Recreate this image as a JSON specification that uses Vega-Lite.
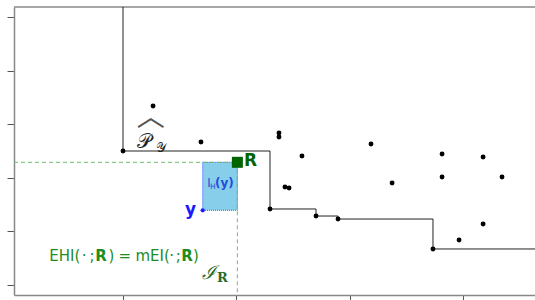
{
  "$schema": "https://vega.github.io/schema/vega-lite/v6.json",
  "width": 521,
  "height": 288,
  "autosize": {"type": "none"},
  "padding": {"left": 14, "top": 7, "right": 0, "bottom": 5},
  "background": "white",
  "config": {
    "view": {"stroke": null},
    "axis": {"grid": false, "labels": false, "title": null, "tickSize": 7, "domainColor": "#888888", "tickColor": "#555555", "domainWidth": 1.5, "tickWidth": 1}
  },
  "datasets": {
    "pts": [
      {"x": 1.265, "y": 3.340}, {"x": 1.688, "y": 2.668}, {"x": 2.376, "y": 2.836}, {"x": 2.376, "y": 2.761},
      {"x": 2.579, "y": 2.407}, {"x": 3.188, "y": 2.631}, {"x": 3.815, "y": 2.444}, {"x": 4.177, "y": 2.388},
      {"x": 2.429, "y": 1.828}, {"x": 2.465, "y": 1.810}, {"x": 3.374, "y": 1.903}, {"x": 3.815, "y": 2.015},
      {"x": 4.344, "y": 2.015}, {"x": 4.177, "y": 1.138}, {"x": 3.965, "y": 0.840},
      {"x": 1.0, "y": 2.5}, {"x": 2.297, "y": 1.418}, {"x": 2.703, "y": 1.287}, {"x": 2.897, "y": 1.231}, {"x": 3.735, "y": 0.672}
    ],
    "front": [
      {"o": 0, "x": 1.0, "y": 5.19}, {"o": 1, "x": 1.0, "y": 2.5}, {"o": 2, "x": 2.297, "y": 1.418},
      {"o": 3, "x": 2.703, "y": 1.287}, {"o": 4, "x": 2.897, "y": 1.231}, {"o": 5, "x": 3.735, "y": 0.672},
      {"o": 6, "x": 4.8, "y": 0.672}
    ]
  },
  "encoding": {
    "x": {"type": "quantitative", "scale": {"domain": [0.0382, 4.635], "nice": false, "zero": false}, "axis": {"values": [1, 2, 3, 4]}},
    "y": {"type": "quantitative", "scale": {"domain": [-0.1866, 5.1866], "nice": false, "zero": false}, "axis": {"values": [0, 1, 2, 3, 4, 5]}}
  },
  "layer": [
    {
      "data": {"values": [{"top": 5.1866}]},
      "mark": {"type": "rule", "color": "#888888", "strokeWidth": 1.5},
      "encoding": {"y": {"field": "top"}, "x": null}
    },
    {
      "data": {"values": [{"x1": 1.703, "x2": 2.009, "y1": 1.394, "y2": 2.289}]},
      "mark": {"type": "rect", "fill": "#87CEEB", "stroke": "#2b55ff", "strokeDash": [1, 1], "strokeWidth": 1},
      "encoding": {"x": {"field": "x1"}, "x2": {"field": "x2"}, "y": {"field": "y1"}, "y2": {"field": "y2"}}
    },
    {
      "data": {"values": [
        {"x1": 0.0382, "x2": 2.009, "y1": 2.289, "y2": 2.289},
        {"x1": 2.009, "x2": 2.009, "y1": 2.289, "y2": -0.1866}
      ]},
      "mark": {"type": "rule", "color": "#6fbf6f", "strokeDash": [4, 3], "strokeWidth": 1},
      "encoding": {"x": {"field": "x1"}, "x2": {"field": "x2"}, "y": {"field": "y1"}, "y2": {"field": "y2"}}
    },
    {
      "data": {"name": "front"},
      "mark": {"type": "line", "interpolate": "step-after", "color": "#222222", "strokeWidth": 1, "clip": true},
      "encoding": {"x": {"field": "x"}, "y": {"field": "y"}, "order": {"field": "o"}}
    },
    {
      "data": {"name": "pts"},
      "mark": {"type": "circle", "color": "black", "size": 24, "opacity": 1},
      "encoding": {"x": {"field": "x"}, "y": {"field": "y"}}
    },
    {
      "data": {"values": [{"x": 2.009, "y": 2.289}]},
      "mark": {"type": "square", "color": "#006400", "size": 121, "opacity": 1},
      "encoding": {"x": {"field": "x"}, "y": {"field": "y"}}
    },
    {
      "data": {"values": [{"x": 1.703, "y": 1.394}]},
      "mark": {"type": "circle", "color": "#1a1aff", "size": 18, "opacity": 1},
      "encoding": {"x": {"field": "x"}, "y": {"field": "y"}}
    },
    {
      "data": {"values": [{"x": 2.068, "y": 2.22, "t": "R"}]},
      "mark": {"type": "text", "align": "left", "baseline": "alphabetic", "font": "DejaVu Sans", "fontSize": 17, "fontWeight": "bold", "color": "#006400"},
      "encoding": {"x": {"field": "x"}, "y": {"field": "y"}, "text": {"field": "t"}}
    },
    {
      "data": {"values": [{"x": 1.644, "y": 1.306, "t": "y"}]},
      "mark": {"type": "text", "align": "right", "baseline": "alphabetic", "font": "DejaVu Sans", "fontSize": 17, "fontWeight": "bold", "color": "#1a1aff"},
      "encoding": {"x": {"field": "x"}, "y": {"field": "y"}, "text": {"field": "t"}}
    },
    {
      "data": {"values": [{"x": 1.744, "y": 1.823, "t": "I"}]},
      "mark": {"type": "text", "align": "left", "baseline": "alphabetic", "font": "DejaVu Sans", "fontSize": 11.5, "color": "#1f4fd8"},
      "encoding": {"x": {"field": "x"}, "y": {"field": "y"}, "text": {"field": "t"}}
    },
    {
      "data": {"values": [{"x": 1.768, "y": 1.800, "t": "H"}]},
      "mark": {"type": "text", "align": "left", "baseline": "alphabetic", "font": "DejaVu Sans", "fontSize": 7.5, "color": "#1f4fd8"},
      "encoding": {"x": {"field": "x"}, "y": {"field": "y"}, "text": {"field": "t"}}
    },
    {
      "data": {"values": [{"x": 1.812, "y": 1.823, "t": "(y)"}]},
      "mark": {"type": "text", "align": "left", "baseline": "alphabetic", "font": "DejaVu Sans", "fontSize": 12, "fontWeight": "bold", "color": "#1f4fd8"},
      "encoding": {"x": {"field": "x"}, "y": {"field": "y"}, "text": {"field": "t"}}
    },
    {
      "data": {"values": [
        {"x": 0.350, "y": 0.448, "t": "EHI("}, {"x": 0.636, "y": 0.448, "t": "·"}, {"x": 0.705, "y": 0.448, "t": ";"},
        {"x": 0.872, "y": 0.448, "t": ")"}, {"x": 0.960, "y": 0.448, "t": "="}, {"x": 1.110, "y": 0.448, "t": "mEI("},
        {"x": 1.409, "y": 0.448, "t": "·"}, {"x": 1.466, "y": 0.448, "t": ";"}, {"x": 1.618, "y": 0.448, "t": ")"}
      ]},
      "mark": {"type": "text", "align": "left", "baseline": "alphabetic", "font": "DejaVu Sans", "fontSize": 15, "color": "#1e8c1e"},
      "encoding": {"x": {"field": "x"}, "y": {"field": "y"}, "text": {"field": "t"}}
    },
    {
      "data": {"values": [{"x": 0.755, "y": 0.448, "t": "R"}, {"x": 1.513, "y": 0.448, "t": "R"}]},
      "mark": {"type": "text", "align": "left", "baseline": "alphabetic", "font": "DejaVu Sans", "fontSize": 15, "fontWeight": "bold", "color": "#1e8c1e"},
      "encoding": {"x": {"field": "x"}, "y": {"field": "y"}, "text": {"field": "t"}}
    },
    {
      "data": {"values": [{"x": 1.694, "y": 0.112, "t": "ℐ"}]},
      "mark": {"type": "text", "align": "left", "baseline": "alphabetic", "font": "DejaVu Serif", "fontSize": 19, "fontStyle": "italic", "color": "#2a6a2a"},
      "encoding": {"x": {"field": "x"}, "y": {"field": "y"}, "text": {"field": "t"}}
    },
    {
      "data": {"values": [{"x": 1.83, "y": 0.056, "t": "R"}]},
      "mark": {"type": "text", "align": "left", "baseline": "alphabetic", "font": "DejaVu Serif", "fontSize": 13, "fontWeight": "bold", "color": "#2a6a2a"},
      "encoding": {"x": {"field": "x"}, "y": {"field": "y"}, "text": {"field": "t"}}
    },
    {
      "data": {"values": [{"x": 1.125, "y": 2.556, "t": "𝒫"}]},
      "mark": {"type": "text", "align": "left", "baseline": "alphabetic", "font": "DejaVu Serif", "fontSize": 20, "color": "#222222"},
      "encoding": {"x": {"field": "x"}, "y": {"field": "y"}, "text": {"field": "t"}}
    },
    {
      "data": {"values": [{"x": 1.29, "y": 2.49, "t": "𝒴"}]},
      "mark": {"type": "text", "align": "left", "baseline": "alphabetic", "font": "DejaVu Serif", "fontSize": 13, "color": "#222222"},
      "encoding": {"x": {"field": "x"}, "y": {"field": "y"}, "text": {"field": "t"}}
    },
    {
      "data": {"values": [{"x": 1.245, "y": 3.12, "t": "︿"}]},
      "mark": {"type": "text", "align": "center", "baseline": "middle", "font": "Noto Sans CJK SC", "fontSize": 28, "color": "#555555"},
      "encoding": {"x": {"field": "x"}, "y": {"field": "y"}, "text": {"field": "t"}}
    }
  ]
}
